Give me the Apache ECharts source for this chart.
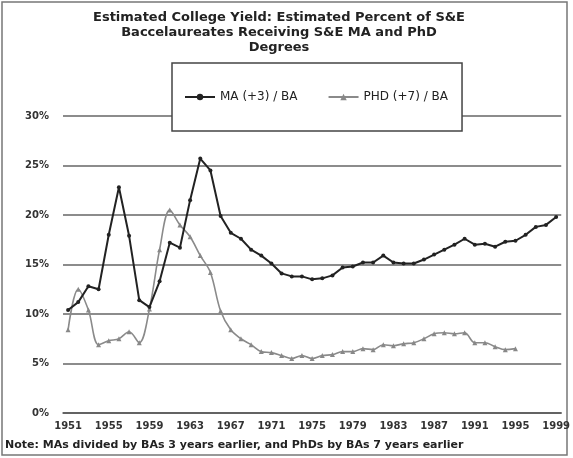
<!DOCTYPE html>
<html>
<head>
<meta charset="utf-8">
<script src="https://cdn.jsdelivr.net/npm/echarts@6/dist/echarts.min.js"></script>
<style>
  html, body { margin: 0; padding: 0; background: #fff; }
  #chart { width: 573px; height: 458px; }
</style>
</head>
<body>
<div id="chart"></div>
<script>
(function () {
  // data -----------------------------------------------------------------
  var years = [];
  for (var y = 1951; y <= 1999; y++) years.push(String(y));

  var maRatio = [10.4, 11.2, 12.8, 12.5, 18.0, 22.8, 17.9, 11.4, 10.7, 13.3,
    17.2, 16.7, 21.5, 25.7, 24.5, 19.9, 18.2, 17.6, 16.5, 15.9,
    15.1, 14.1, 13.8, 13.8, 13.5, 13.6, 13.9, 14.7, 14.8, 15.2,
    15.2, 15.9, 15.2, 15.1, 15.1, 15.5, 16.0, 16.5, 17.0, 17.6,
    17.0, 17.1, 16.8, 17.3, 17.4, 18.0, 18.8, 19.0, 19.8];

  var phdRatio = [8.4, 12.5, 10.4, 6.9, 7.3, 7.5, 8.2, 7.1, 10.5, 16.5,
    20.5, 19.0, 17.8, 15.9, 14.2, 10.3, 8.4, 7.5, 6.9, 6.2,
    6.1, 5.8, 5.5, 5.8, 5.5, 5.8, 5.9, 6.2, 6.2, 6.5,
    6.4, 6.9, 6.8, 7.0, 7.1, 7.5, 8.0, 8.1, 8.0, 8.1,
    7.1, 7.1, 6.7, 6.4, 6.5, null, null, null, null];

  var titleLines = ['Estimated College Yield: Estimated Percent of S&E',
    'Baccelaureates Receiving S&E MA and PhD', 'Degrees'];
  var noteText = 'Note: MAs divided by BAs 3 years earlier, and PhDs by BAs 7 years earlier';

  var wideFont = 'DejaVu Sans, Liberation Sans, sans-serif';

  var chart = echarts.init(document.getElementById('chart'));
  chart.setOption({
    animation: false,
    backgroundColor: '#fff',
    textStyle: { fontFamily: wideFont },
    title: {
      text: titleLines.join('\n'),
      left: 274,
      textAlign: 'center',
      top: 5,
      textStyle: { fontSize: 13, fontWeight: 'bold', color: '#222', lineHeight: 15, fontFamily: wideFont }
    },
    legend: {
      left: 172,
      top: 63,
      padding: [28, 14, 28, 12],
      itemGap: 30,
      itemWidth: 30,
      itemHeight: 8,
      backgroundColor: '#fff',
      borderColor: '#444',
      borderWidth: 1.5,
      textStyle: { fontSize: 12, color: '#222', fontFamily: wideFont },
      data: ['MA (+3) / BA', 'PHD (+7) / BA']
    },
    grid: { left: 63, right: 6, top: 116, bottom: 45 },
    xAxis: {
      type: 'category',
      data: years,
      boundaryGap: true,
      axisLine: { lineStyle: { color: '#555', width: 1.5 } },
      axisTick: { interval: 0, length: 4, lineStyle: { color: '#555' } },
      axisLabel: { interval: 3, color: '#333', fontSize: 10, fontWeight: 'bold', margin: 8 }
    },
    yAxis: {
      type: 'value',
      min: 0,
      max: 30,
      interval: 5,
      axisLine: { show: false },
      axisTick: { show: false },
      axisLabel: { formatter: '{value}%', color: '#333', fontSize: 10, fontWeight: 'bold', margin: 14 },
      splitLine: { lineStyle: { color: '#666', width: 1.5 } }
    },
    series: [
      {
        name: 'MA (+3) / BA',
        type: 'line',
        data: maRatio,
        symbol: 'circle',
        symbolSize: 4,
        itemStyle: { color: '#222' },
        lineStyle: { color: '#222', width: 2 },
        z: 3
      },
      {
        name: 'PHD (+7) / BA',
        type: 'line',
        data: phdRatio,
        smooth: 0.35,
        symbol: 'triangle',
        symbolSize: 5,
        itemStyle: { color: '#888' },
        lineStyle: { color: '#8a8a8a', width: 1.6 },
        z: 2
      }
    ],
    graphic: [
      {
        type: 'rect',
        shape: { x: 2, y: 2, width: 565, height: 453 },
        style: { fill: 'none', stroke: '#777', lineWidth: 1.5 },
        silent: true
      },
      {
        type: 'text',
        left: 5,
        top: 440,
        style: { text: noteText, fontSize: 11, fontWeight: 'bold', fill: '#222', fontFamily: wideFont }
      }
    ]
  });
})();
</script>
</body>
</html>
